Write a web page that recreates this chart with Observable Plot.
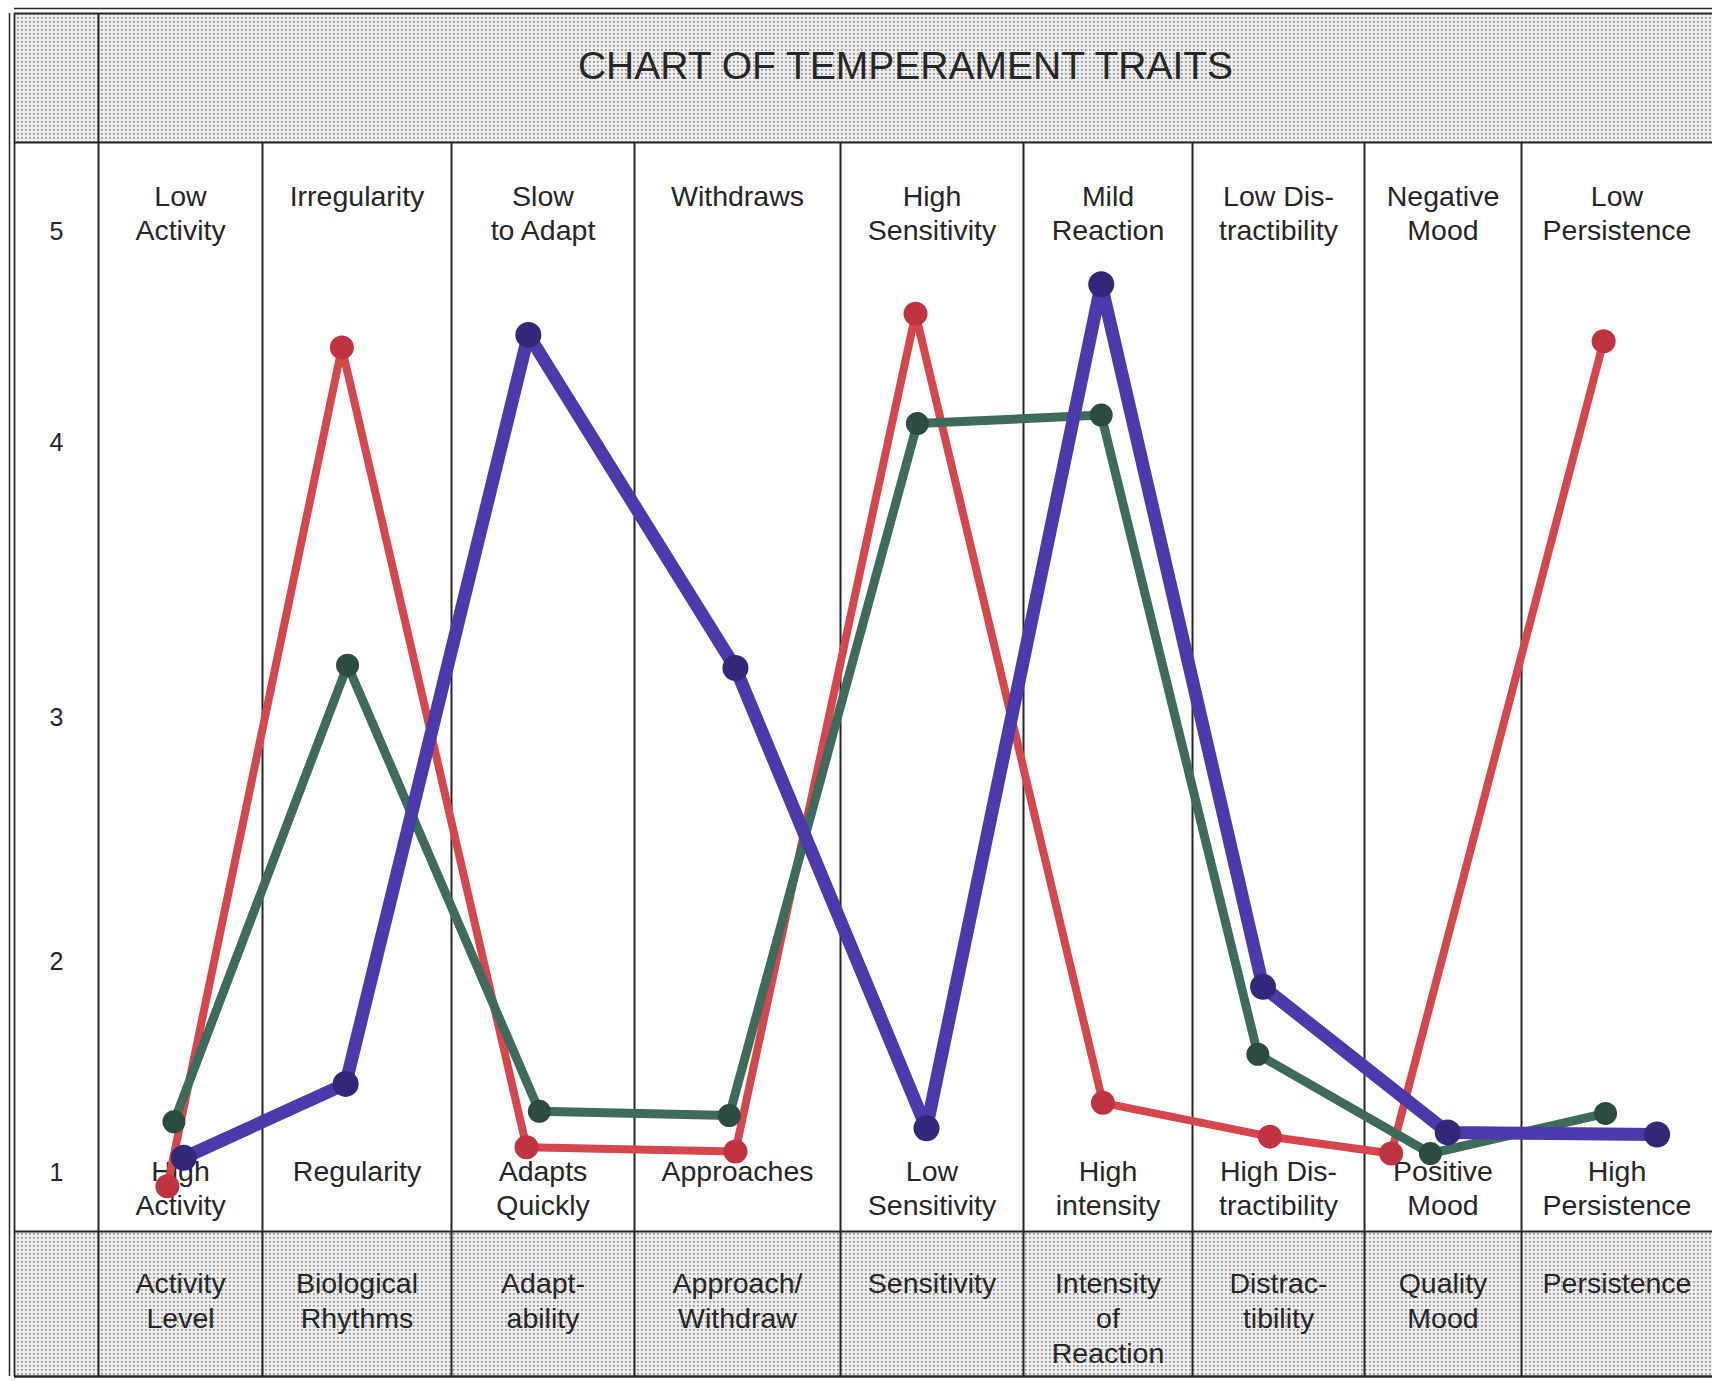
<!DOCTYPE html>
<html>
<head>
<meta charset="utf-8">
<script src="https://cdn.jsdelivr.net/npm/d3@7"></script>
<script src="https://cdn.jsdelivr.net/npm/@observablehq/plot@0.6"></script>
<style>
  html, body { margin: 0; padding: 0; background: #fff; }
  #chart svg { display: block; }
</style>
</head>
<body>
<div id="chart"></div>
<script>
// ---------- data ----------
const chartTitle = "CHART OF TEMPERAMENT TRAITS";

const categories = [
  "Activity\nLevel", "Biological\nRhythms", "Adapt-\nability", "Approach/\nWithdraw",
  "Sensitivity", "Intensity\nof\nReaction", "Distrac-\ntibility", "Quality\nMood", "Persistence"
];
// descriptor at the "5" end of each column
const highEndLabels = [
  "Low\nActivity", "Irregularity", "Slow\nto Adapt", "Withdraws", "High\nSensitivity",
  "Mild\nReaction", "Low Dis-\ntractibility", "Negative\nMood", "Low\nPersistence"
];
// descriptor at the "1" end of each column
const lowEndLabels = [
  "High\nActivity", "Regularity", "Adapts\nQuickly", "Approaches", "Low\nSensitivity",
  "High\nintensity", "High Dis-\ntractibility", "Positive\nMood", "High\nPersistence"
];
const ratingTicks = [1, 2, 3, 4, 5];

// three hand-drawn profiles: where in each column the point was drawn (column units), and its rating
const redPos      = [0.42, 1.42, 2.41, 3.49, 4.41, 5.47, 6.45, 7.17, 8.43];
const redRating   = [0.93, 4.45, 1.12, 1.10, 4.61, 1.33, 1.17, 1.09, 4.48];
const greenPos    = [0.46, 1.45, 2.48, 3.46, 4.42, 5.46, 6.38, 7.42, 8.44];
const greenRating = [1.24, 3.19, 1.29, 1.27, 4.09, 4.13, 1.56, 1.09, 1.28];
const bluePos     = [0.52, 1.44, 2.42, 3.49, 4.47, 5.46, 6.41, 7.53, 8.71];
const blueRating  = [1.07, 1.42, 4.51, 3.18, 1.21, 4.75, 1.88, 1.19, 1.18];

// ---------- layout levels (in scale units) ----------
const Y_BOTTOM = 0, Y_FOOT = 0.7, Y_HEAD = 5.6, Y_TOP = 6.2;
const X_LEFT = -1, X_RIGHT = 9;

const toPoints = (pos, rating) => pos.map((p, i) => ({x: p, y: rating[i], category: categories[i]}));
const red = toPoints(redPos, redRating);
const green = toPoints(greenPos, greenRating);
const blue = toPoints(bluePos, blueRating);

const columns = categories.map((c, i) => ({x: i + 0.5, category: c, high: highEndLabels[i], low: lowEndLabels[i]}));
const dividers = d3.range(1, 9);
const bands = [{y1: Y_HEAD, y2: Y_TOP}, {y1: Y_BOTTOM, y2: Y_FOOT}];

const INK = "#262626";
const FONT = "Liberation Sans, Arial, Helvetica, sans-serif";
const DOTS = "#d7d7d7";

const chart = Plot.plot({
  width: 1712,
  height: 1381,
  marginLeft: 98,
  marginRight: 0,
  marginTop: 0,
  marginBottom: 0,
  style: {fontFamily: FONT, background: "#fff", overflow: "visible"},
  x: {type: "linear", axis: null,
      domain: [-1, 0, 1, 2, 3, 4, 5, 6, 7, 8, 9],
      range: [14, 98, 262, 451, 634, 840, 1023, 1192, 1364, 1521, 1712]},
  y: {type: "linear", axis: null,
      domain: [Y_BOTTOM, Y_FOOT, 1, 2, 3, 4, 5, Y_HEAD, Y_TOP],
      range: [1376, 1231, 1172, 961, 717, 442, 231, 142, 13]},
  marks: [
    // dotted header / footer bands
    Plot.rect(bands, {x1: X_LEFT, x2: X_RIGHT, y1: "y1", y2: "y2", fill: DOTS}),
    // grid
    Plot.ruleX(dividers, {x: d => d, y1: Y_BOTTOM, y2: Y_HEAD, stroke: INK, strokeWidth: 2}),
    Plot.ruleX([0], {y1: Y_BOTTOM, y2: Y_TOP, stroke: INK, strokeWidth: 2}),
    Plot.ruleY([Y_HEAD, Y_FOOT], {x1: X_LEFT, x2: X_RIGHT, stroke: INK, strokeWidth: 2.2}),
    // outer double frame
    Plot.ruleY([Y_TOP], {x1: X_LEFT, x2: X_RIGHT, stroke: INK, strokeWidth: 1.8}),
    Plot.ruleY([Y_TOP], {x1: X_LEFT, x2: X_RIGHT, dy: -5, stroke: INK, strokeWidth: 1.5}),
    Plot.ruleY([Y_BOTTOM], {x1: X_LEFT, x2: X_RIGHT, stroke: INK, strokeWidth: 2.5}),
    Plot.ruleX([X_LEFT], {y1: Y_BOTTOM, y2: Y_TOP, stroke: INK, strokeWidth: 1.8}),
    Plot.ruleX([X_LEFT], {y1: Y_BOTTOM, y2: Y_TOP, dx: -5, stroke: INK, strokeWidth: 1.5}),
    // title
    Plot.text([chartTitle], {frameAnchor: "top", lineAnchor: "middle", dy: 66,
      fontSize: 39, fill: INK, fontFamily: FONT, letterSpacing: "-0.9px"}),
    // rating scale
    Plot.text(ratingTicks, {x: -0.5, y: d => d, text: d => String(d), fontSize: 25,
      lineAnchor: "middle", fill: INK, fontFamily: FONT}),
    // column descriptors
    Plot.text(columns, {x: "x", y: 5, text: "high", lineAnchor: "top", dy: -50,
      fontSize: 28.5, lineHeight: 1.2, fill: INK, fontFamily: FONT}),
    Plot.text(columns, {x: "x", y: 1, text: "low", lineAnchor: "top", dy: -16,
      fontSize: 28.5, lineHeight: 1.2, fill: INK, fontFamily: FONT}),
    Plot.text(columns, {x: "x", y: Y_FOOT, text: "category", lineAnchor: "top", dy: 37,
      fontSize: 28.5, lineHeight: 1.22, fill: INK, fontFamily: FONT}),
    // profiles
    Plot.line(red, {x: "x", y: "y", stroke: "#d5474d", strokeWidth: 8,
      strokeLinecap: "round", strokeLinejoin: "round"}),
    Plot.dot(red, {x: "x", y: "y", r: 12, fill: "#bf3440", stroke: "none"}),
    Plot.line(green, {x: "x", y: "y", stroke: "#3e6b5c", strokeWidth: 9,
      strokeLinecap: "round", strokeLinejoin: "round"}),
    Plot.dot(green, {x: "x", y: "y", r: 11.5, fill: "#2c4b41", stroke: "none"}),
    Plot.line(blue, {x: "x", y: "y", stroke: "#4a3aab", strokeWidth: 13,
      strokeLinecap: "round", strokeLinejoin: "round"}),
    Plot.dot(blue, {x: "x", y: "y", r: 13, fill: "#302878", stroke: "none"})
  ]
});

// dotted screen texture for the header and footer bands
const NS = "http://www.w3.org/2000/svg";
const defs = document.createElementNS(NS, "defs");
defs.innerHTML =
  '<pattern id="screen" width="4" height="4" patternUnits="userSpaceOnUse">' +
  '<rect width="4" height="4" fill="#eeeeee"/>' +
  '<rect x="1" y="1" width="1.7" height="1.7" fill="#8c8c8c"/></pattern>';
chart.insertBefore(defs, chart.firstChild);
chart.querySelectorAll(`[fill="${DOTS}"]`).forEach(el => el.setAttribute("fill", "url(#screen)"));

document.getElementById("chart").appendChild(chart);
</script>
</body>
</html>
